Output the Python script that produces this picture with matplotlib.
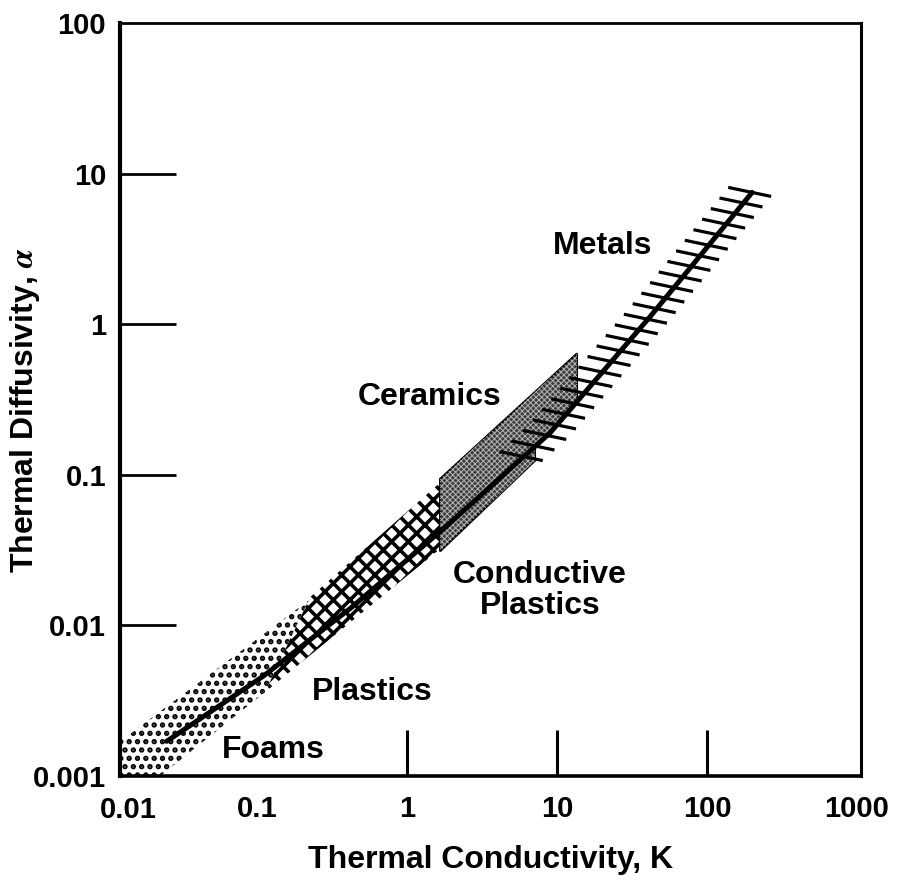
import numpy as np
import matplotlib
matplotlib.use('Agg')
import matplotlib.pyplot as plt
from matplotlib.patches import Polygon

plt.rcParams['font.family'] = ['Liberation Sans', 'DejaVu Sans']
plt.rcParams['font.weight'] = 'bold'
plt.rcParams['mathtext.fontset'] = 'stix'
plt.rcParams['hatch.linewidth'] = 2.4

# ---------------- data ----------------
# central trend curve: thermal diffusivity vs thermal conductivity
line_k = [0.025, 0.11, 0.42, 1.85, 9.0, 42.0, 200.0]
line_alpha = [0.0017, 0.0046, 0.013, 0.046, 0.19, 1.13, 7.5]

# material bands (polygon vertices in data units)
foams_k = [0.009, 0.226, 0.113, 0.0226, 0.009]
foams_alpha = [0.00135, 0.0149, 0.0036, 0.001, 0.001]
plastics_k = [0.113, 0.226, 1.66, 1.66]
plastics_alpha = [0.0036, 0.0154, 0.0886, 0.0322]
ceramics_upper_k = [1.66, 13.6]
ceramics_upper_alpha = [0.094, 0.64]
conductive_lower_k = [1.66, 7.14]
conductive_lower_alpha = [0.031, 0.124]
metals_k_range = [6.0, 200.0]
metals_n_ticks = 26

labels = ['Metals', 'Ceramics', 'Conductive\nPlastics', 'Plastics', 'Foams']
label_k = [20.3, 1.42, 7.7, 0.584, 0.128]
label_alpha = [3.31, 0.331, 0.0171, 0.00363, 0.00149]

xtick_vals = [0.1, 1, 10, 100, 1000]
xtick_labels = ['0.1', '1', '10', '100', '1000']
ytick_vals = [0.001, 0.01, 0.1, 1, 10, 100]
ytick_labels = ['0.001', '0.01', '0.1', '1', '10', '100']

# ---------------- figure ----------------
fig = plt.figure(figsize=(8.98, 8.82), dpi=100)
L, R, T, B = 120, 861, 23, 776
W, H = 898, 882
ax = fig.add_axes([L / W, 1 - B / H, (R - L) / W, (B - T) / H])
ax.set_xscale('log')
ax.set_yscale('log')
ax.set_xlim(10 ** ((L - 407) / 150), 10 ** ((R - 407) / 150))
ax.set_ylim(0.001, 100)

lk = np.log10(line_k)
la = np.log10(line_alpha)


def line_at(k):
    return 10 ** np.interp(np.log10(k), lk, la)


def line_seg(k0, k1):
    pts = [(k0, line_at(k0))]
    pts += [(k, a) for k, a in zip(line_k, line_alpha) if k0 < k < k1]
    pts += [(k1, line_at(k1))]
    return pts


PER_PATCH = hasattr(Polygon([(0, 0), (1, 1), (1, 0)]), 'set_hatch_linewidth')


def hatch_patch(xy, hatch, hlw, face, edge='black', lw=0, z=2):
    p = Polygon(xy, closed=True, facecolor=face, edgecolor=edge,
                linewidth=lw, hatch=hatch, zorder=z)
    if PER_PATCH and hatch:
        p.set_hatch_linewidth(hlw)
    ax.add_patch(p)
    return p


# Foams: dotted band
hatch_patch(list(zip(foams_k, foams_alpha)), '..', 2.6, 'white', z=2)
# Plastics: cross-hatched band
hatch_patch(list(zip(plastics_k, plastics_alpha)), 'xx', 2.6, 'white', z=3)

# Ceramics: grey stippled band above the curve
cer = [(ceramics_upper_k[0], ceramics_upper_alpha[0]),
       (ceramics_upper_k[1], ceramics_upper_alpha[1])]
cer += line_seg(ceramics_upper_k[0], ceramics_upper_k[1])[::-1]
# Conductive plastics: grey stippled band below the curve
con = line_seg(conductive_lower_k[0], conductive_lower_k[1])
con += [(conductive_lower_k[1], conductive_lower_alpha[1]),
        (conductive_lower_k[0], conductive_lower_alpha[0])]
for poly in (cer, con):
    hatch_patch(poly, None, 1, '#3e3e3e', edge='black', lw=1.4, z=4)
    if PER_PATCH:
        hatch_patch(poly, 'xxxxxx', 0.7, 'none', edge='#b4b4b4', lw=0,
                    z=4)

# Metals: short cross ticks along the curve
a0 = np.log10(line_at(metals_k_range[0]))
a1 = np.log10(line_at(metals_k_range[1]))
for la_t in np.linspace(a0, a1, metals_n_ticks):
    k_t = 10 ** np.interp(la_t, la, lk)
    a_t = 10 ** la_t
    ax.plot([k_t * 10 ** (-24 / 150), k_t * 10 ** (19 / 150)],
            [a_t * 10 ** (5 / 150), a_t * 10 ** (-4 / 150)],
            color='black', lw=2.3, solid_capstyle='butt', zorder=5)

# central curve
ax.plot(line_k, line_alpha, color='black', lw=3.6, solid_capstyle='round',
        solid_joinstyle='round', zorder=6)

# labels
for t, k, a in zip(labels, label_k, label_alpha):
    ax.text(k, a, t, ha='center', va='center', fontsize=23,
            fontweight='bold', linespacing=1.05, zorder=7)

# axes / ticks
ax.minorticks_off()
ax.set_xticks(xtick_vals)
ax.set_xticklabels(xtick_labels)
ax.set_yticks(ytick_vals)
ax.set_yticklabels(ytick_labels)
ax.tick_params(axis='x', direction='in', length=33, width=2.2, pad=14,
               labelsize=21)
ax.tick_params(axis='y', direction='in', length=40, width=2.0, pad=10,
               labelsize=21)
for lab in ax.get_xticklabels() + ax.get_yticklabels():
    lab.set_fontweight('bold')
xt = ax.xaxis.get_major_ticks()
xt[0].tick1line.set_visible(False)
xt[-1].tick1line.set_visible(False)
yt = ax.yaxis.get_major_ticks()
yt[0].tick1line.set_visible(False)
yt[-1].tick1line.set_visible(False)

ax.text((128 - L) / (R - L), -0.0265, '0.01',
        transform=ax.transAxes, ha='center', va='top', fontsize=21,
        fontweight='bold')

ax.spines['left'].set_linewidth(3.0)
ax.spines['bottom'].set_linewidth(2.6)
ax.spines['top'].set_linewidth(2.0)
ax.spines['right'].set_linewidth(2.2)

fig.text((L + R) / 2 / W, 1 - 860 / H, 'Thermal Conductivity, K',
         ha='center', va='center', fontsize=23, fontweight='bold')
fig.text(25 / W, 1 - 410 / H, r'Thermal Diffusivity, $\alpha$',
         rotation=90, ha='center', va='center', fontsize=23,
         fontweight='bold')

fig.savefig('out.png', dpi=100)
